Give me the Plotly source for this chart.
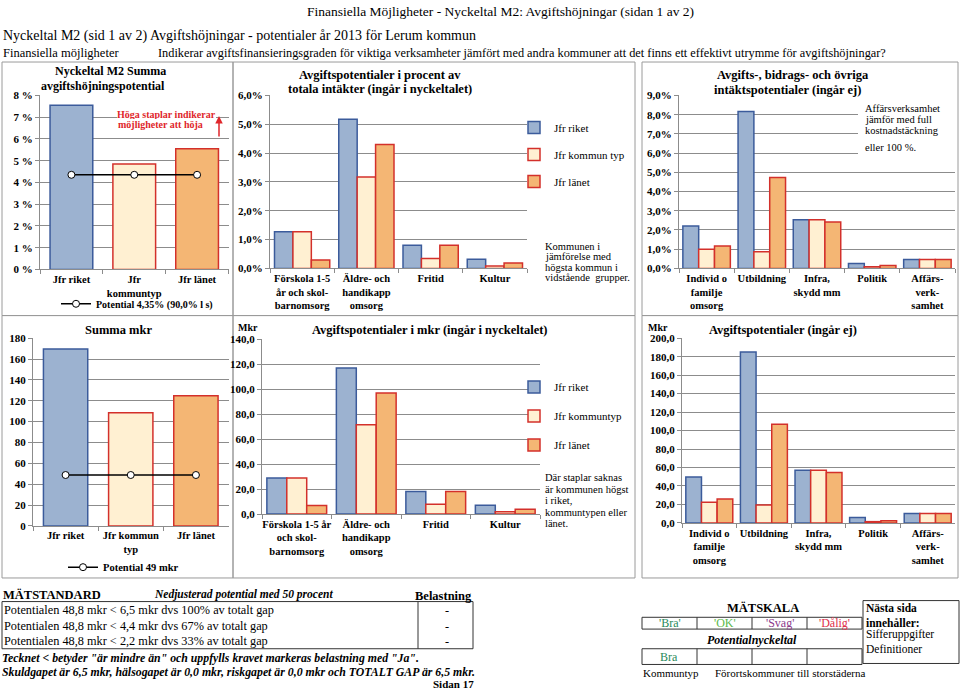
import plotly.graph_objects as go

W, H = 960, 697
SERIF = "Liberation Serif"

# ---------------- data ----------------
series_top = ["Jfr riket", "Jfr kommun typ", "Jfr länet"]
series_bot = ["Jfr riket", "Jfr kommuntyp", "Jfr länet"]

sum_cats_top = ["Jfr riket", "Jfr<br>kommuntyp", "Jfr länet"]
sum_pct = [7.55, 4.85, 5.55]
pot_pct = [4.35, 4.35, 4.35]
pot_pct_name = "Potential 4,35% (90,0% l s)"

mid_cats_top = ["Förskola 1-5<br>år och skol-<br>barnomsorg", "Äldre- och<br>handikapp<br>omsorg", "Fritid", "Kultur"]
mid_pct_riket = [1.27, 5.17, 0.80, 0.32]
mid_pct_komm = [1.27, 3.17, 0.34, 0.08]
mid_pct_lan = [0.29, 4.30, 0.80, 0.19]

right_cats = ["Individ o<br>familje<br>omsorg", "Utbildning", "Infra,<br>skydd mm", "Politik", "Affärs-<br>verk-<br>samhet"]
right_pct_riket = [2.21, 8.16, 2.53, 0.26, 0.46]
right_pct_komm = [0.99, 0.87, 2.53, 0.09, 0.46]
right_pct_lan = [1.17, 4.73, 2.41, 0.15, 0.46]

sum_cats_bot = ["Jfr riket", "Jfr kommun<br>typ", "Jfr länet"]
sum_mkr = [169.6, 108.5, 124.8]
pot_mkr = [48.8, 48.8, 48.8]
pot_mkr_name = "Potential 49 mkr"

mid_cats_bot = ["Förskola 1-5 år<br>och skol-<br>barnomsorg", "Äldre- och<br>handikapp<br>omsorg", "Fritid", "Kultur"]
mid_mkr_riket = [28.8, 117.0, 18.1, 7.1]
mid_mkr_komm = [28.8, 71.5, 7.9, 1.8]
mid_mkr_lan = [6.8, 96.9, 18.1, 3.9]

right_mkr_riket = [49.6, 185.0, 57.1, 6.0, 10.3]
right_mkr_komm = [22.3, 19.5, 57.1, 1.4, 10.3]
right_mkr_lan = [25.9, 106.7, 54.6, 2.5, 10.3]

# ---------------- styles ----------------
FILL = ["#9cb2d0", "#fff0d2", "#f4b674"]
EDGE = ["#3b5b9b", "#d3302b", "#d3302b"]
GRID = "#8c8c8c"


def dx(a, b):
    return [a / W, b / W]


def dy(top, bottom):
    return [1 - bottom / H, 1 - top / H]


fig = go.Figure()


def grouped(xa, ya, cats, vals, names, legend=None):
    for i, (v, n) in enumerate(zip(vals, names)):
        fig.add_trace(go.Bar(
            x=cats, y=v, name=n, xaxis=xa, yaxis=ya,
            marker=dict(color=FILL[i], line=dict(color=EDGE[i], width=1.5)),
            showlegend=legend is not None, legend=legend or "legend",
            legendgroup=f"{xa}{i}", hoverinfo="skip"))


def summary(xa, ya, cats, vals, pot, potname, legend):
    fig.add_trace(go.Bar(
        x=cats, y=vals, xaxis=xa, yaxis=ya, width=0.68,
        marker=dict(color=FILL, line=dict(color=EDGE, width=1.5)),
        showlegend=False, hoverinfo="skip"))
    fig.add_trace(go.Scatter(
        x=cats, y=pot, name=potname, xaxis=xa, yaxis=ya, mode="lines+markers",
        line=dict(color="black", width=1.5),
        marker=dict(symbol="circle", size=7, color="white", line=dict(color="black", width=1)),
        legend=legend, hoverinfo="skip"))


summary("x", "y", sum_cats_top, sum_pct, pot_pct, pot_pct_name, "legend")
grouped("x2", "y2", mid_cats_top, [mid_pct_riket, mid_pct_komm, mid_pct_lan], series_top, "legend2")
grouped("x3", "y3", right_cats, [right_pct_riket, right_pct_komm, right_pct_lan], series_top)
summary("x4", "y4", sum_cats_bot, sum_mkr, pot_mkr, pot_mkr_name, "legend3")
grouped("x5", "y5", mid_cats_bot, [mid_mkr_riket, mid_mkr_komm, mid_mkr_lan], series_bot, "legend4")
grouped("x6", "y6", right_cats, [right_mkr_riket, right_mkr_komm, right_mkr_lan], series_bot)

tickf_x = dict(family=SERIF, size=10.5, color="black", weight="bold")
tickf_y = dict(family=SERIF, size=11, color="black", weight="bold")


def xax(dom, anchor):
    return dict(domain=dx(*dom), anchor=anchor, type="category", showline=True, linecolor=GRID,
                linewidth=1, ticks="outside", ticklen=4, tickcolor=GRID, tickson="boundaries",
                showgrid=False, tickfont=tickf_x, fixedrange=True, tickangle=0)


def yax(dom, anchor, rng, dtick, fmt, suffix):
    return dict(domain=dy(*dom), anchor=anchor, range=rng, dtick=dtick, tickformat=fmt,
                ticksuffix=suffix, showline=True, linecolor=GRID, linewidth=1, ticks="outside",
                ticklen=4, tickcolor=GRID, showgrid=True, gridcolor=GRID, gridwidth=1,
                zeroline=False, tickfont=tickf_y, fixedrange=True)


layout = dict(
    width=W, height=H, margin=dict(l=0, r=0, t=0, b=0),
    paper_bgcolor="white", plot_bgcolor="white",
    barmode="group", bargap=0.14, bargroupgap=0,
    separators=", ",
    font=dict(family=SERIF, size=11, color="black"),
    xaxis=xax((40, 228.5), "y"),
    yaxis=yax((91, 268), "x", [0, 8], 1, "d", " %"),
    xaxis2=xax((270, 527), "y2"),
    yaxis2=yax((91, 267), "x2", [0, 6], 1, ".1f", "%"),
    xaxis3=xax((679, 955), "y3"),
    yaxis3=yax((91, 267), "x3", [0, 9], 1, ".1f", "%"),
    xaxis4=xax((33, 228.5), "y4"),
    yaxis4=yax((338, 529), "x4", [0, 180], 20, "d", ""),
    xaxis5=xax((262, 540), "y5"),
    yaxis5=yax((339, 517), "x5", [0, 140], 20, ".1f", ""),
    xaxis6=xax((682, 955), "y6"),
    yaxis6=yax((338, 526), "x6", [0, 200], 20, ".1f", ""),
    legend=dict(x=56 / W, y=1 - 303 / H, xanchor="left", yanchor="middle", bgcolor="rgba(0,0,0,0)",
                font=dict(family=SERIF, size=10, weight="bold")),
    legend2=dict(x=514 / W, y=1 - 109 / H, xanchor="left", yanchor="top", bgcolor="rgba(0,0,0,0)",
                 tracegroupgap=8, font=dict(family=SERIF, size=11)),
    legend3=dict(x=63 / W, y=1 - 571 / H, xanchor="left", yanchor="middle", bgcolor="rgba(0,0,0,0)",
                 font=dict(family=SERIF, size=10.5, weight="bold")),
    legend4=dict(x=514 / W, y=1 - 373 / H, xanchor="left", yanchor="top", bgcolor="rgba(0,0,0,0)",
                 tracegroupgap=10, font=dict(family=SERIF, size=11)),
)
fig.update_layout(**layout)


def txt(x, y, s, size=12, bold=False, italic=False, color="black", xanchor="left", yanchor="middle",
        bg=None):
    fig.add_annotation(x=x / W, y=1 - y / H, xref="paper", yref="paper", text=s, showarrow=False,
                       font=dict(family=SERIF, size=size, color=color,
                                 weight="bold" if bold else "normal",
                                 style="italic" if italic else "normal"),
                       xanchor=xanchor, yanchor=yanchor, borderpad=0, borderwidth=0,
                       bgcolor=bg or "rgba(0,0,0,0)")


def rect(x0, y0, x1, y1, color="#9a9a9a", width=1, fill="rgba(0,0,0,0)", layer="below"):
    fig.add_shape(type="rect", xref="paper", yref="paper", x0=x0 / W, x1=x1 / W,
                  y0=1 - y0 / H, y1=1 - y1 / H, line=dict(color=color, width=width),
                  fillcolor=fill, layer=layer)


def vline(x, y0, y1, color="#333", width=1):
    fig.add_shape(type="line", xref="paper", yref="paper", x0=x / W, x1=x / W,
                  y0=1 - y0 / H, y1=1 - y1 / H, line=dict(color=color, width=width))


# header
txt(500, 6, "Finansiella Möjligheter - Nyckeltal M2: Avgiftshöjningar (sidan 1 av 2)", 13.5, xanchor="center")
txt(3, 31, "Nyckeltal M2 (sid 1 av 2) Avgiftshöjningar - potentialer år 2013 för Lerum kommun", 14)
txt(3, 48, "Finansiella möjligheter", 12.5)
txt(158, 48, "Indikerar avgiftsfinansieringsgraden för viktiga verksamheter jämfört med andra kommuner att det finns ett effektivt utrymme för avgiftshöjningar?", 12.3)

# panel frames
rect(2, 57, 233, 315)
rect(233, 57, 635, 315)
rect(642, 57, 958, 315)
rect(2, 315, 233, 582)
rect(233, 315, 635, 582)
rect(642, 315, 958, 582)

# white area behind the note in the right-hand chart (hides grid lines)
rect(858, 97, 956, 153, color="rgba(0,0,0,0)", width=0, fill="white", layer="above")

# chart titles
txt(110, 66, "Nyckeltal M2 Summa", 12, bold=True, xanchor="center")
txt(103, 81, "avgiftshöjningspotential", 12, bold=True, xanchor="center")
txt(380, 70, "Avgiftspotentialer i procent av", 12.5, bold=True, xanchor="center")
txt(380, 84, "totala intäkter (ingår i nyckeltalet)", 12.5, bold=True, xanchor="center")
txt(793, 70, "Avgifts-, bidrags- och övriga", 12.5, bold=True, xanchor="center")
txt(787, 85, "intäktspotentialer (ingår ej)", 12.5, bold=True, xanchor="center")
txt(118, 330, "Summa mkr", 12.5, bold=True, xanchor="center")
txt(430, 330, "Avgiftspotentialer i mkr (ingår i nyckeltalet)", 12.5, bold=True, xanchor="center")
txt(783, 330, "Avgiftspotentialer (ingår ej)", 12.5, bold=True, xanchor="center")
txt(248, 327, "Mkr", 10, bold=True, xanchor="center")
txt(658, 327, "Mkr", 10, bold=True, xanchor="center")

# red note + arrow
txt(117, 110, "Höga staplar indikerar", 10, bold=True, color="#e0262b", bg="white")
txt(118, 121, "möjligheter att höja", 10, bold=True, color="#e0262b", bg="white")
fig.add_annotation(x=219 / W, y=1 - 112 / H, xref="paper", yref="paper", text="", showarrow=True,
                   ax=0, ay=22, arrowcolor="#e0262b", arrowhead=2, arrowsize=1, arrowwidth=1.5)

# side notes
for i, s in enumerate(["Kommunen i", "jämförelse med", "högsta kommun i", "vidstående  grupper."]):
    txt(545, 245 + i * 10.3, s, 10.5)
for i, s in enumerate(["Affärsverksamhet", "jämför med full", "kostnadstäckning"]):
    txt(865, 104 + i * 11.5, s, 10.5)
txt(865, 144, "eller 100 %.", 10.5)
for i, s in enumerate(["Där staplar saknas", "är kommunen högst", "i riket,", "kommuntypen eller", "länet."]):
    txt(545, 480 + i * 11.7, s, 10.5)

# MÄTSTANDARD block
txt(3, 599, "MÄTSTANDARD", 12.5, bold=True)
txt(243, 599, "Nedjusterad potential med 50 procent", 11.5, italic=True, bold=True, xanchor="center")
txt(472, 600, "Belastning", 12.5, bold=True, xanchor="right")
rect(2, 606, 473, 654, color="#333")
vline(418, 606, 654)
rows = ["Potentialen 48,8 mkr < 6,5 mkr dvs 100% av totalt gap",
        "Potentialen 48,8 mkr < 4,4 mkr dvs 67% av totalt gap",
        "Potentialen 48,8 mkr < 2,2 mkr dvs 33% av totalt gap"]
for i, s in enumerate(rows):
    txt(4, 615 + i * 15.7, s, 12.3)
    txt(447, 615 + i * 15.7, "-", 12.3, xanchor="center")
txt(2, 663, 'Tecknet < betyder "är mindre än" och uppfylls kravet markeras belastning med "Ja".', 11.8, bold=True, italic=True)
txt(2, 678, "Skuldgapet är 6,5 mkr, hälsogapet är 0,0 mkr, riskgapet är 0,0 mkr och TOTALT GAP är 6,5 mkr.", 11.8, bold=True, italic=True)
txt(474, 690, "Sidan 17", 11, bold=True, xanchor="right")

# MÄTSKALA block
txt(763, 613, "MÄTSKALA", 12.5, bold=True, xanchor="center")
cell_x = [642, 697, 752, 807, 862]
rect(642, 622, 862, 634, color="#333")
rect(642, 654, 862, 670, color="#333")
for cx in cell_x[1:-1]:
    vline(cx, 622, 634)
    vline(cx, 654, 670)
scale_lbl = ["'Bra'", "'OK'", "'Svag'", "'Dålig'"]
scale_col = ["#2a8a5a", "#5cb84a", "#8b3a8b", "#e0304a"]
for i, (s, c) in enumerate(zip(scale_lbl, scale_col)):
    txt((cell_x[i] + cell_x[i + 1]) / 2, 628, s, 12, color=c, xanchor="center")
txt(752, 645, "Potentialnyckeltal", 12, bold=True, italic=True, xanchor="center")
txt(669, 662, "Bra", 12, color="#2a8a5a", xanchor="center")
txt(643, 679, "Kommuntyp", 11)
txt(715, 679, "Förortskommuner till storstäderna", 11)
rect(863, 605, 959, 669, color="#333")
txt(866, 613, "Nästa sida", 11.5, bold=True)
txt(866, 628, "innehåller:", 11.5, bold=True)
txt(866, 640, "Sifferuppgifter", 11.5)
txt(866, 654, "Definitioner", 11.5)

fig.write_html("out.html", config={"displayModeBar": False},
               post_script="document.body.style.margin='0';document.body.style.overflow='hidden';")
